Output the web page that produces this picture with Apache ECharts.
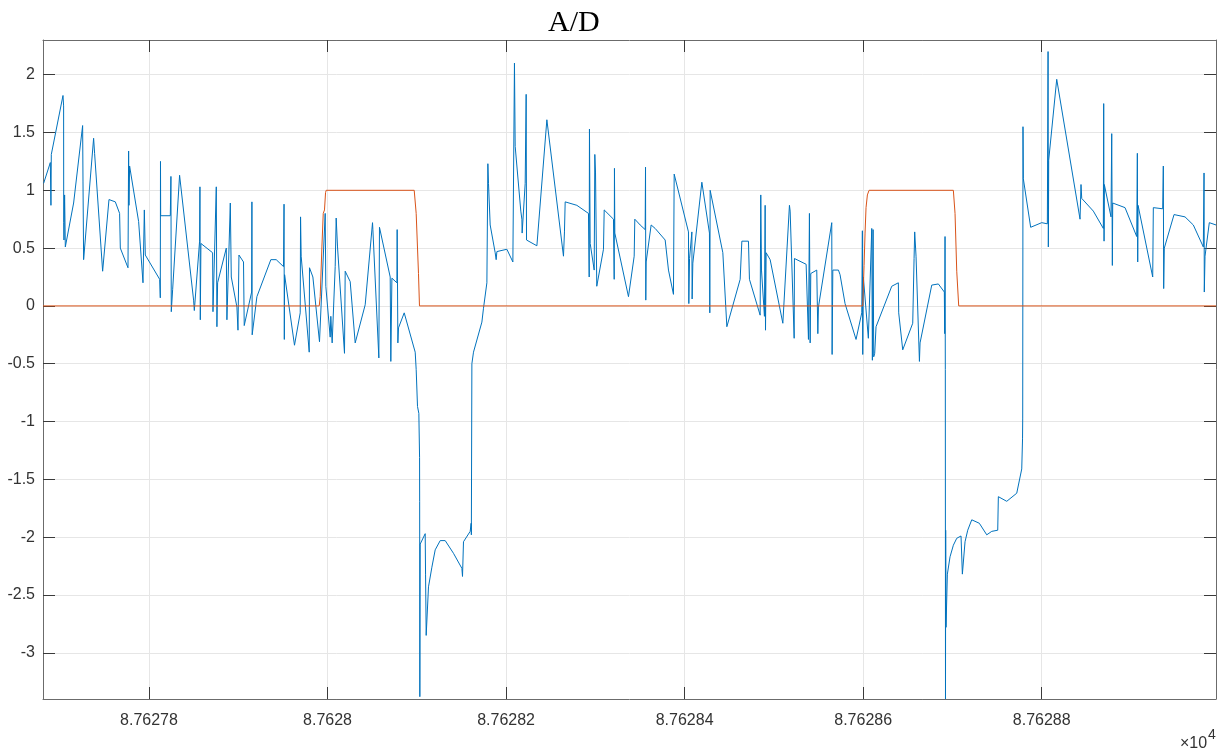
<!DOCTYPE html>
<html>
<head>
<meta charset="utf-8">
<title>A/D</title>
<script src="https://cdn.jsdelivr.net/npm/echarts@6/dist/echarts.min.js"></script>
<style>
  html, body { margin: 0; padding: 0; background: #fff; }
  #chart { width: 1232px; height: 751px; }
</style>
</head>
<body>
<div id="chart"></div>
<script>
// Time axis origin; offsets below are in thousandths of a unit
const X0 = 87627;
const X_MIN = 87627.6813;
const X_MAX = 87628.9952;
const Y_MIN = -3.4;
const Y_MAX = 2.3;

const xTickValues = [87627.8, 87628.0, 87628.2, 87628.4, 87628.6, 87628.8];
const yTickValues = [-3, -2.5, -2, -1.5, -1, -0.5, 0, 0.5, 1, 1.5, 2];

// A/D converter reading
const adOffset = [
  682.0, 689.5, 690.2, 690.6, 703.7, 704.4, 704.5, 704.8, 705.5, 706.3,
  715.6, 725.7, 726.1, 726.8, 738.0, 739.1, 748.1, 755.2, 762.3, 767.1,
  767.9, 776.5, 777.2, 777.6, 778.3, 788.4, 793.3, 794.8, 795.9, 812.0,
  812.7, 812.9, 813.1, 823.9, 824.6, 825.0, 826.5, 834.3, 850.0, 850.8,
  856.7, 857.1, 857.5, 858.2, 871.3, 871.7, 875.4, 876.1, 876.9, 886.6,
  887.3, 891.1, 892.2, 898.5, 899.7, 900.8,
  902.2, 905.9, 906.7, 915.0, 915.3, 915.6, 920.9, 936.5, 942.5, 950.7,
  951.3, 951.6, 951.9, 963.0, 969.4, 969.8, 970.5, 979.5, 979.8, 983.6,
  991.0, 997.4, 998.1, 1003.0, 1003.7, 1005.2, 1008.6, 1009.7, 1011.2, 1019.0,
  1019.8, 1025.4, 1031.0, 1042.2, 1050.4, 1050.8, 1057.5, 1058.2, 1070.2, 1070.9,
  1072.1, 1077.7, 1078.0, 1078.8, 1079.5, 1085.9, 1098.2, 1099.3,
  1100.8, 1102.3, 1103.1, 1103.2, 1103.4, 1103.8, 1109.4, 1109.8, 1110.5, 1113.1,
  1116.9, 1120.6, 1126.2, 1131.8, 1141.1, 1150.5, 1151.2, 1152.3, 1159.8, 1160.9,
  1161.1, 1161.7,
  1163.5, 1172.9, 1174.7, 1178.5, 1179.6, 1180.3, 1182.2, 1187.8, 1188.9, 1189.7,
  1200.9, 1207.6, 1209.4, 1210.2, 1216.5, 1217.7, 1218.0, 1221.4, 1222.5, 1222.9,
  1234.5, 1245.7, 1264.3, 1265.4, 1266.2, 1279.3, 1292.3, 1293.1, 1293.4, 1294.2,
  1298.7, 1299.4, 1300.2, 1301.6, 1309.1, 1309.9, 1320.3, 1321.1, 1321.4, 1321.8,
  1337.1, 1343.5, 1344.2,
  1350.2, 1355.8, 1356.2, 1356.5, 1356.9, 1362.5, 1367.0, 1378.2, 1381.9, 1387.5,
  1388.3, 1404.3, 1404.7, 1405.5, 1408.1, 1408.4, 1409.2, 1419.3, 1427.8, 1428.2,
  1428.6, 1442.8, 1447.3, 1462.2, 1464.1, 1471.5, 1472.6, 1484.6, 1485.3, 1486.1,
  1489.4, 1490.2, 1490.6, 1491.3, 1495.8, 1510.0, 1517.4, 1518.2, 1522.7, 1523.0,
  1536.1, 1538.7, 1539.8, 1540.6, 1541.3, 1548.0, 1549.2, 1549.9, 1564.8, 1565.2,
  1566.0, 1572.3,
  1574.1, 1579.7, 1592.0, 1598.4, 1599.1, 1599.5, 1600.2, 1605.8, 1609.6, 1610.3,
  1611.1, 1611.8, 1612.9, 1614.4, 1632.0, 1639.4, 1639.8, 1644.3, 1655.5, 1657.0,
  1657.7, 1659.2, 1663.0, 1663.7, 1676.8, 1684.2, 1690.9, 1691.3, 1691.7, 1692.0,
  1692.2, 1692.4, 1692.8, 1694.3, 1697.3, 1701.0, 1704.8, 1709.6, 1711.1, 1714.1,
  1717.1, 1721.6, 1730.1, 1738.4, 1744.0, 1750.7, 1751.4, 1760.8, 1772.0, 1777.6,
  1778.5, 1778.7, 1779.0, 1779.4, 1787.6,
  1800.0, 1806.3, 1807.1, 1807.4, 1807.6, 1807.8, 1816.8, 1842.9, 1844.0, 1844.8,
  1857.8, 1869.0, 1869.4, 1869.8, 1870.1, 1877.6, 1878.4, 1879.1, 1879.5, 1893.3,
  1906.4, 1907.1, 1907.5, 1907.9, 1924.3, 1925.0, 1935.5, 1936.2, 1936.6, 1937.3,
  1948.2, 1960.5, 1969.8, 1981.0, 1981.8, 1982.1, 1982.9, 1987.7, 1995.2
];
const adValue = [
  1.06, 1.24, 0.87, 1.31, 1.82, 1.73, 0.72, 0.57, 0.96, 0.51,
  0.89, 1.56, 1.08, 0.40, 1.45, 1.32, 0.30, 0.92, 0.90, 0.80,
  0.50, 0.33, 1.34, 0.87, 1.21, 0.73, 0.20, 0.83, 0.44, 0.23,
  0.07, 1.25, 0.78, 0.78, 1.12, -0.05, 0.14, 1.13, 0.05, -0.04,
  0.56, 1.03, -0.12, 0.54, 0.46, -0.05, 1.03, -0.18, 0.20, 0.50,
  -0.12, 0.89, 0.25, -0.01, -0.21, 0.44,
  0.43, 0.38, -0.17, 0.12, 0.90, -0.25, 0.08, 0.40, 0.40, 0.34,
  0.88, -0.29, 0.27, -0.34, -0.06, 0.77, 0.43, -0.40, 0.33, 0.25,
  -0.31, 0.80, 0.17, -0.27, -0.09, -0.32, 0.34, 0.76, 0.51, -0.41,
  0.30, 0.21, -0.32, 0.01, 0.72, 0.66, -0.45, 0.68, 0.25, -0.48,
  0.24, 0.20, 0.66, -0.32, -0.19, -0.06, -0.40, -0.55,
  -0.87, -0.93, -1.31, -1.69, -3.38, -2.06, -1.97, -2.32, -2.85, -2.43,
  -2.26, -2.11, -2.03, -2.03, -2.14, -2.27, -2.34, -2.04, -1.95, -1.88,
  -1.98, -0.50,
  -0.40, -0.14, -0.02, 0.20, 1.23, 1.06, 0.70, 0.46, 0.40, 0.47,
  0.49, 0.38, 2.10, 1.38, 0.82, 0.75, 0.63, 1.06, 1.83, 0.57,
  0.52, 1.61, 0.43, 0.64, 0.90, 0.87, 0.80, 0.25, 1.53, 0.54,
  0.31, 1.31, 1.15, 0.17, 0.49, 0.83, 0.75, 0.23, 1.19, 0.63,
  0.08, 0.43, 0.75,
  0.70, 0.66, 1.20, 0.05, 0.38, 0.70, 0.67, 0.57, 0.31, 0.10,
  1.14, 0.64, 0.02, 0.41, 0.64, 0.06, 0.37, 1.07, 0.63, -0.06,
  1.00, 0.46, -0.18, 0.23, 0.56, 0.56, 0.23, -0.08, 0.96, 0.31,
  -0.09, 0.87, -0.21, 0.46, 0.40, -0.15, 0.87, 0.82, -0.28, 0.41,
  0.36, -0.29, 0.80, -0.32, 0.28, 0.31, -0.24, -0.01, 0.72, -0.42,
  0.31, 0.31,
  0.27, 0.02, -0.29, -0.06, 0.65, -0.42, 0.25, -0.28, 0.67, -0.47,
  0.66, -0.44, -0.41, -0.18, 0.17, 0.20, -0.06, -0.38, -0.15, 0.41,
  0.64, 0.43, -0.48, -0.32, 0.18, 0.19, 0.12, -0.24, 0.60, -0.55,
  -3.40, -1.94, -2.78, -2.32, -2.17, -2.07, -2.01, -1.99, -2.32, -2.04,
  -1.94, -1.85, -1.88, -1.98, -1.95, -1.94, -1.65, -1.69, -1.62, -1.41,
  -1.15, -0.97, 1.55, 1.10, 0.68,
  0.72, 0.71, 2.20, 0.51, 0.83, 1.26, 1.96, 0.75, 1.05, 0.93,
  0.82, 0.67, 1.75, 0.56, 1.05, 0.77, 1.49, 0.35, 0.89, 0.85,
  0.60, 1.32, 0.38, 0.87, 0.25, 0.85, 0.84, 1.21, 0.15, 0.50,
  0.79, 0.77, 0.70, 0.51, 1.15, 0.12, 0.43, 0.72, 0.70
];

// Digital gate signal
const gateOffset = [
  681.3, 990.7, 991.8, 993.7, 995.2, 996.6, 997.8, 998.5, 1097.1, 1099.3,
  1101.9, 1103.0, 1599.5, 1601.0, 1602.1, 1603.2, 1604.7, 1606.6, 1701.0, 1702.9,
  1704.8, 1707.0, 1995.2
];
const gateValue = [
  0, 0, 0.08, 0.51, 0.80, 0.83, 0.98, 1, 1, 0.80,
  0.28, 0, 0, 0.35, 0.63, 0.85, 0.96, 1, 1, 0.80,
  0.30, 0, 0
];

const toPoints = (offs, vals) => offs.map((o, i) => [X0 + o / 1000, vals[i]]);

const FONT = '"Liberation Sans", Arial, Helvetica, sans-serif';
const AXIS_COLOR = '#6b6b6b';
const TICK_COLOR = '#3a3a3a';
const GRID_COLOR = '#e6e6e6';

const fmtX = v => String(parseFloat((v / 1e4).toFixed(5)));

const baseX = {
  type: 'value',
  min: X_MIN,
  max: X_MAX,
  axisLine: { show: true, onZero: false, lineStyle: { color: AXIS_COLOR, width: 1 } },
  axisTick: { show: true, inside: true, length: 12, customValues: xTickValues,
              lineStyle: { color: TICK_COLOR, width: 1 } },
  minorTick: { show: false }
};
const baseY = {
  type: 'value',
  min: Y_MIN,
  max: Y_MAX,
  axisLine: { show: true, onZero: false, lineStyle: { color: AXIS_COLOR, width: 1 } },
  axisTick: { show: true, inside: true, length: 12, customValues: yTickValues,
              lineStyle: { color: TICK_COLOR, width: 1 } }
};

const chart = echarts.init(document.getElementById('chart'), null, { renderer: 'canvas' });
chart.setOption({
  animation: false,
  backgroundColor: '#ffffff',
  title: {
    text: 'A/D',
    left: 548,
    top: 8,
    padding: 0,
    textStyle: { fontFamily: '"Liberation Serif", "Times New Roman", serif',
                 fontSize: 30, fontWeight: 'normal', color: '#000' }
  },
  grid: { left: 43, right: 16, top: 40, bottom: 52, containLabel: false },
  xAxis: [
    Object.assign({}, baseX, {
      position: 'bottom',
      axisLabel: { show: true, customValues: xTickValues, formatter: fmtX, margin: 14,
                   fontFamily: FONT, fontSize: 16, color: '#333' },
      splitLine: { show: true, lineStyle: { color: GRID_COLOR, width: 1 } }
    }),
    Object.assign({}, baseX, {
      position: 'top',
      axisLabel: { show: false },
      splitLine: { show: false }
    })
  ],
  yAxis: [
    Object.assign({}, baseY, {
      position: 'left',
      axisLabel: { show: true, customValues: yTickValues, margin: 8,
                   fontFamily: FONT, fontSize: 16, color: '#333' },
      splitLine: { show: true, lineStyle: { color: GRID_COLOR, width: 1 } }
    }),
    Object.assign({}, baseY, {
      position: 'right',
      axisLabel: { show: false },
      splitLine: { show: false }
    })
  ],
  graphic: [
    { type: 'text', left: 1180, top: 736,
      style: { text: '×10', font: '16px ' + FONT, fill: '#333' } },
    { type: 'text', left: 1208, top: 728,
      style: { text: '4', font: '14px ' + FONT, fill: '#333' } }
  ],
  series: [
    {
      name: 'A/D', type: 'line', xAxisIndex: 0, yAxisIndex: 0,
      data: toPoints(adOffset, adValue),
      showSymbol: false, symbol: 'none',
      lineStyle: { color: '#0072BD', width: 1 },
      itemStyle: { color: '#0072BD' },
      clip: true, z: 3
    },
    {
      name: 'gate', type: 'line', xAxisIndex: 0, yAxisIndex: 0,
      data: toPoints(gateOffset, gateValue),
      showSymbol: false, symbol: 'none',
      lineStyle: { color: '#D95319', width: 1 },
      itemStyle: { color: '#D95319' },
      clip: true, z: 10
    }
  ]
});
</script>
</body>
</html>
